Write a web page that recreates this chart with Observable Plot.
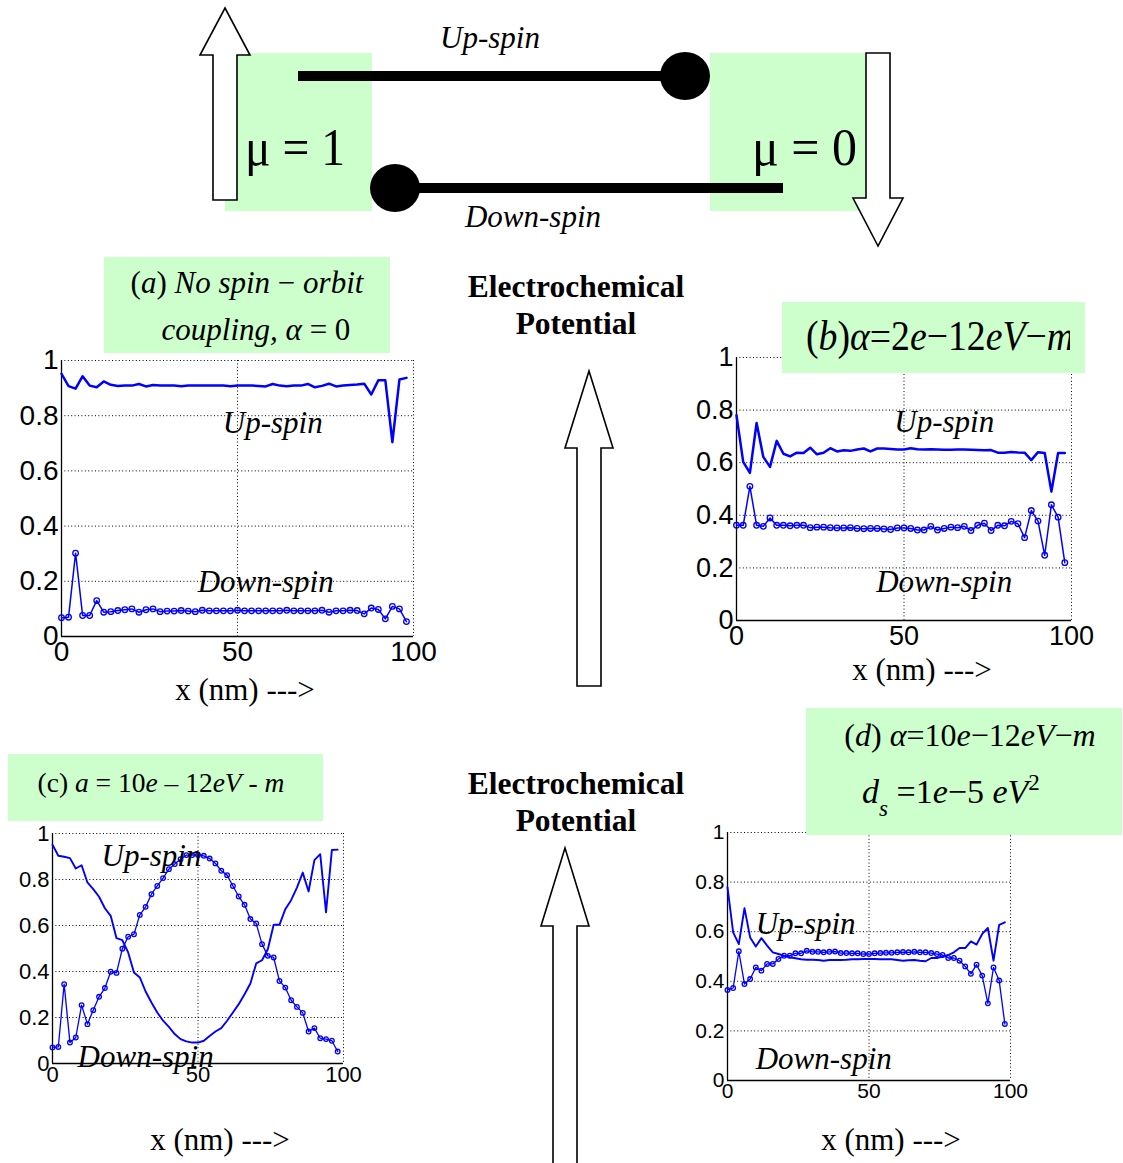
<!DOCTYPE html>
<html>
<head>
<meta charset="utf-8">
<script src="https://cdn.jsdelivr.net/npm/d3@7"></script>
<script src="https://cdn.jsdelivr.net/npm/@observablehq/plot@0.6"></script>
<style>
  html, body { margin: 0; padding: 0; background: #fff; }
  #page { position: relative; width: 1123px; height: 1163px; overflow: hidden; background: #fff; }
  #page > svg { position: absolute; left: 0; top: 0; }
</style>
</head>
<body>
<div id="page"></div>
<script>
// Position along the channel (nm)
const positionNm = [0,2,4,6,8,10,12,14,16,18,20,22,24,26,28,30,32,34,36,38,40,42,44,46,48,
  50,52,54,56,58,60,62,64,66,68,70,72,74,76,78,80,82,84,86,88,90,92,94,96,98];

// (a) no spin-orbit coupling
const upSpinA = [0.952,0.907,0.898,0.943,0.909,0.903,0.924,0.912,0.908,0.909,0.909,0.915,0.906,0.911,0.909,0.909,0.909,0.907,0.909,0.909,
  0.909,0.909,0.909,0.909,0.907,0.909,0.909,0.909,0.908,0.906,0.915,0.909,0.907,0.909,0.909,0.915,0.903,0.908,0.916,0.906,
  0.909,0.911,0.913,0.916,0.877,0.928,0.928,0.704,0.931,0.937];
const downSpinA = [0.068,0.070,0.302,0.076,0.076,0.130,0.088,0.090,0.094,0.097,0.100,0.088,0.097,0.100,0.090,0.092,0.092,0.094,0.092,0.090,
  0.095,0.093,0.093,0.093,0.093,0.095,0.093,0.093,0.093,0.093,0.093,0.093,0.095,0.093,0.093,0.093,0.093,0.095,0.088,0.093,
  0.093,0.095,0.094,0.082,0.103,0.098,0.064,0.109,0.100,0.054];

// (b) alpha = 2e-12 eV-m
const upSpinB = [0.780,0.603,0.561,0.751,0.622,0.584,0.683,0.634,0.624,0.638,0.637,0.657,0.632,0.638,0.655,0.643,0.647,0.645,0.650,0.654,
  0.643,0.654,0.654,0.652,0.650,0.650,0.655,0.651,0.650,0.651,0.650,0.649,0.649,0.650,0.650,0.649,0.648,0.647,0.648,0.638,
  0.638,0.641,0.639,0.638,0.610,0.640,0.637,0.490,0.637,0.637];
const downSpinB = [0.362,0.362,0.510,0.362,0.358,0.390,0.362,0.362,0.360,0.362,0.362,0.353,0.355,0.355,0.353,0.352,0.352,0.353,0.350,0.349,
  0.350,0.350,0.348,0.346,0.352,0.352,0.350,0.344,0.344,0.358,0.344,0.350,0.355,0.353,0.358,0.342,0.362,0.370,0.342,0.362,
  0.360,0.377,0.368,0.315,0.418,0.378,0.248,0.440,0.393,0.220];

// (c) a = 10e-12 eV-m
const upSpinC = [0.951,0.903,0.899,0.893,0.848,0.862,0.787,0.758,0.725,0.675,0.642,0.545,0.536,0.483,0.396,0.374,0.313,0.265,0.222,0.186,
  0.159,0.128,0.106,0.096,0.091,0.091,0.099,0.120,0.139,0.154,0.186,0.222,0.258,0.301,0.348,0.435,0.449,0.497,0.603,0.603,
  0.671,0.710,0.765,0.830,0.748,0.884,0.910,0.657,0.928,0.930];
const downSpinC = [0.070,0.072,0.345,0.091,0.113,0.254,0.171,0.232,0.290,0.328,0.399,0.394,0.499,0.551,0.562,0.646,0.681,0.736,0.772,0.806,
  0.845,0.867,0.888,0.906,0.906,0.907,0.903,0.891,0.870,0.838,0.819,0.772,0.726,0.690,0.628,0.609,0.519,0.468,0.461,0.359,
  0.330,0.275,0.246,0.220,0.139,0.154,0.110,0.106,0.099,0.052];

// (d) alpha = 10e-12 eV-m, d_s = 1e-5 eV^2
const upSpinD = [0.779,0.597,0.550,0.695,0.577,0.540,0.574,0.544,0.517,0.510,0.503,0.497,0.493,0.489,0.487,0.487,0.486,0.483,0.486,0.486,
  0.486,0.487,0.489,0.489,0.490,0.490,0.490,0.489,0.489,0.489,0.486,0.483,0.485,0.486,0.483,0.481,0.494,0.494,0.500,0.506,
  0.517,0.534,0.534,0.561,0.548,0.591,0.615,0.483,0.628,0.638];
const downSpinD = [0.365,0.373,0.521,0.389,0.409,0.456,0.443,0.470,0.470,0.490,0.503,0.503,0.513,0.513,0.523,0.519,0.519,0.517,0.519,0.520,
  0.514,0.514,0.513,0.513,0.510,0.510,0.513,0.514,0.515,0.515,0.517,0.518,0.517,0.519,0.517,0.517,0.514,0.510,0.506,0.494,
  0.494,0.483,0.460,0.430,0.467,0.423,0.311,0.456,0.403,0.228];

// Axis ticks
const xTicks = [0, 50, 100];
const yTicks = [0, 0.2, 0.4, 0.6, 0.8, 1];

// In-plot curve labels
const labelsA = [{x: 60, y: 0.772, text: "Up-spin"}, {x: 58, y: 0.196, text: "Down-spin"}];
const labelsB = [{x: 62, y: 0.754, text: "Up-spin"}, {x: 62, y: 0.145, text: "Down-spin"}];
const labelsC = [{x: 34, y: 0.904, text: "Up-spin"}, {x: 32, y: 0.03, text: "Down-spin"}];
const labelsD = [{x: 27.6, y: 0.632, text: "Up-spin"}, {x: 34, y: 0.085, text: "Down-spin"}];

const W = 1123, H = 1163;
const BLUE = "#0000ff";
const SERIF = "'Liberation Serif', 'Times New Roman', serif";
const SANS = "'Liberation Sans', Arial, sans-serif";
const GREEN = "#ccffcc";

function rows(values) {
  return positionNm.map((x, i) => ({x, v: values[i]}));
}

function panel({up, down, labels, left, right, top, bottom, fontSize, pad, upW, downW, r, labelSize}) {
  const dotted = {stroke: "black", strokeWidth: 1, strokeDasharray: "1,2.4"};
  return Plot.plot({
    width: W, height: H,
    marginLeft: left, marginRight: W - right, marginTop: top, marginBottom: H - bottom,
    x: {domain: [0, 100], ticks: xTicks, tickSize: 0, tickPadding: pad, tickFormat: d => String(d), label: null},
    y: {domain: [0, 1], ticks: yTicks, tickSize: 0, tickPadding: 3, tickFormat: d => String(d), label: null},
    style: {fontSize: fontSize + "px", fontFamily: SANS, color: "black", background: "transparent", overflow: "visible"},
    marks: [
      Plot.ruleX(xTicks.filter(d => d > 0), dotted),
      Plot.ruleY(yTicks.filter(d => d > 0), dotted),
      Plot.ruleX([0], {stroke: "black", strokeWidth: 1.3}),
      Plot.ruleY([0], {stroke: "black", strokeWidth: 1.3}),
      Plot.line(rows(up), {x: "x", y: "v", stroke: BLUE, strokeWidth: upW}),
      Plot.line(rows(down), {x: "x", y: "v", stroke: BLUE, strokeWidth: downW}),
      Plot.dot(rows(down), {x: "x", y: "v", r, stroke: BLUE, fill: "none", strokeWidth: 1.3}),
      Plot.text(labels, {x: "x", y: "y", text: "text", fontFamily: SERIF, fontStyle: "italic",
        fontSize: labelSize, fill: "black"})
    ]
  });
}

const page = document.getElementById("page");

page.append(panel({up: upSpinA, down: downSpinA, labels: labelsA, left: 61, right: 413, top: 360, bottom: 636,
  fontSize: 28, pad: 5, upW: 2.5, downW: 1.5, r: 2.8, labelSize: 31}));
page.append(panel({up: upSpinB, down: downSpinB, labels: labelsB, left: 736, right: 1071, top: 357, bottom: 620,
  fontSize: 27, pad: 5, upW: 2.5, downW: 1.5, r: 2.8, labelSize: 31}));
page.append(panel({up: upSpinC, down: downSpinC, labels: labelsC, left: 52, right: 343, top: 833, bottom: 1063,
  fontSize: 22, pad: 3, upW: 1.9, downW: 1.3, r: 2.3, labelSize: 31}));
page.append(panel({up: upSpinD, down: downSpinD, labels: labelsD, left: 727, right: 1010, top: 832, bottom: 1080,
  fontSize: 21, pad: 3, upW: 1.9, downW: 1.3, r: 2.3, labelSize: 31}));

// Schematic, panel titles and axis captions
const svg = d3.select(page).append("svg").attr("width", W).attr("height", H)
  .style("overflow", "visible").style("pointer-events", "none");

function box(x0, y0, x1, y1) {
  svg.append("rect").attr("x", x0).attr("y", y0).attr("width", x1 - x0).attr("height", y1 - y0).attr("fill", GREEN);
}

function arrow(ax, ay, hw, baseY, sw, endY) {
  const pts = [[ax, ay], [ax + hw, baseY], [ax + sw, baseY], [ax + sw, endY], [ax - sw, endY], [ax - sw, baseY], [ax - hw, baseY]];
  svg.append("polygon").attr("points", pts.map(p => p.join(",")).join(" "))
    .attr("fill", "white").attr("stroke", "black").attr("stroke-width", 1.6).attr("stroke-linejoin", "miter");
}

function rich(x, y, parts, {size, anchor = "start", weight = "normal", length = null, adjust = "spacing", clip = null}) {
  const t = svg.append("text").attr("x", x).attr("y", y).attr("font-family", SERIF)
    .attr("font-size", size).attr("font-weight", weight).attr("text-anchor", anchor).attr("fill", "black");
  if (length) t.attr("textLength", length).attr("lengthAdjust", adjust);
  if (clip) t.attr("clip-path", `url(#${clip})`);
  for (const [s, style] of parts) {
    const sp = t.append("tspan").text(s);
    if (style.includes("i")) sp.attr("font-style", "italic");
    if (style.includes("_")) sp.attr("baseline-shift", "sub").attr("font-size", size * 0.68);
    if (style.includes("^")) sp.attr("baseline-shift", "super").attr("font-size", size * 0.68);
  }
  return t;
}

// Contacts with electrochemical potentials
box(225, 53, 372, 211);
box(710, 53, 865, 211);
arrow(225, 8, 25, 55, 12, 200);
arrow(878, 246, -25, 198, -12, 53);

// Spin channels
svg.append("line").attr("x1", 298).attr("x2", 685).attr("y1", 76).attr("y2", 76).attr("stroke", "black").attr("stroke-width", 10);
svg.append("ellipse").attr("cx", 685).attr("cy", 76).attr("rx", 25).attr("ry", 24).attr("fill", "black");
svg.append("line").attr("x1", 395).attr("x2", 783).attr("y1", 188).attr("y2", 188).attr("stroke", "black").attr("stroke-width", 10);
svg.append("ellipse").attr("cx", 395).attr("cy", 188).attr("rx", 25).attr("ry", 24).attr("fill", "black");

rich(490, 48, [["Up-spin", "i"]], {size: 31, anchor: "middle"});
rich(533, 227, [["Down-spin", "i"]], {size: 31, anchor: "middle"});
rich(245, 165, [["μ = 1", ""]], {size: 52, length: 100, adjust: "spacingAndGlyphs"});
rich(752, 165, [["μ = 0", ""]], {size: 52, length: 105, adjust: "spacingAndGlyphs"});

// Centre column captions and arrows
rich(576, 297, [["Electrochemical", ""]], {size: 31.5, anchor: "middle", weight: "bold"});
rich(576, 334, [["Potential", ""]], {size: 31.5, anchor: "middle", weight: "bold"});
arrow(589, 371, 24, 448, 12, 686);
rich(576, 794, [["Electrochemical", ""]], {size: 31.5, anchor: "middle", weight: "bold"});
rich(576, 831, [["Potential", ""]], {size: 31.5, anchor: "middle", weight: "bold"});
arrow(565, 848, 24, 926, 12, 1175);

// Panel titles
box(104, 257, 390, 353);
rich(247, 293, [["(", ""], ["a", "i"], [") ", ""], ["No spin", "i"], [" − ", ""], ["orbit", "i"]], {size: 31, anchor: "middle"});
rich(256, 340, [["coupling,", "i"], [" ", ""], ["α", "i"], [" = 0", ""]], {size: 31, anchor: "middle"});

box(782, 302, 1085, 373);
svg.append("clipPath").attr("id", "clipB").append("rect").attr("x", 782).attr("y", 290).attr("width", 288).attr("height", 90);
rich(806, 350, [["(", ""], ["b", "i"], [")", ""], ["α", "i"], ["=2", ""], ["e", "i"], ["−12", ""], ["eV", "i"], ["−", ""], ["m", "i"]],
  {size: 42, length: 268, adjust: "spacingAndGlyphs", clip: "clipB"});

box(8, 754, 323, 821);
rich(161, 792, [["(c) ", ""], ["a", "i"], [" = 10", ""], ["e", "i"], [" – 12", ""], ["eV", "i"], [" - ", ""], ["m", "i"]], {size: 27.5, anchor: "middle"});

box(806, 708, 1122, 835);
rich(970, 746, [["(", ""], ["d", "i"], [") ", ""], ["α", "i"], ["=10", ""], ["e", "i"], ["−12", ""], ["eV", "i"], ["−", ""], ["m", "i"]], {size: 32, anchor: "middle"});
rich(862, 803, [["d", "i"], ["s", "i_"], [" =1", ""], ["e", "i"], ["−5", ""], [" eV", "i"], ["2", "^"]], {size: 34});

// Axis captions
rich(245, 700, [["x (nm) --->", ""]], {size: 31, anchor: "middle"});
rich(922, 680, [["x (nm) --->", ""]], {size: 31, anchor: "middle"});
rich(220, 1150, [["x (nm) --->", ""]], {size: 31, anchor: "middle"});
rich(891, 1150, [["x (nm) --->", ""]], {size: 31, anchor: "middle"});
</script>
</body>
</html>
